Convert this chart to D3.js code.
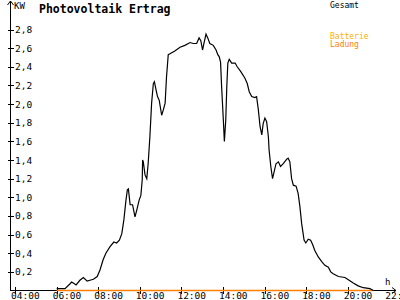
<!DOCTYPE html>
<html>
<head>
<meta charset="utf-8">
<script src="https://cdn.jsdelivr.net/npm/d3@7"></script>
<style>
  body { margin: 0; background: #fff; }
  svg { display: block; }
  text { font-family: "DejaVu Sans Mono", monospace; }
</style>
</head>
<body>
<div id="chart"></div>
<script>
// Gesamt (kW) over the day
var times = ["06:00","06:24","06:38","06:43","06:48","06:56","07:07","07:17","07:28","07:36",
  "07:46","07:57","08:05","08:14","08:22","08:34","08:45","08:53","09:01","09:08",
  "09:14","09:20","09:24","09:27","09:32","09:39","09:46","09:51","09:58","10:03",
  "10:07","10:08","10:10","10:15","10:20","10:24","10:29","10:34","10:39","10:42",
  "10:47","10:51","10:56","11:03","11:08","11:13","11:17","11:22","11:27","11:41",
  "11:56","12:10","12:25","12:34","12:44","12:51","12:56","13:01","13:05","13:11",
  "13:16","13:22","13:32","13:40","13:45","13:49","13:53","13:56","14:01","14:04",
  "14:08","14:11","14:14","14:18","14:25","14:35","14:41","14:51","15:03","15:10",
  "15:16","15:23","15:32","15:37","15:42","15:47","15:52","15:56","16:01","16:06",
  "16:11","16:13","16:18","16:23","16:33","16:40","16:46","16:54","17:04","17:08",
  "17:13","17:18","17:23","17:31","17:37","17:42","17:47","17:54","17:59","18:06",
  "18:13","18:19","18:25","18:35","18:45","18:54","19:04","19:11","19:18","19:33",
  "19:52","20:04","20:16","20:30","20:45","21:04","21:14"];
var gesamt = [0.02,0.02,0.07,0.09,0.08,0.06,0.11,0.14,0.10,0.11,
  0.12,0.15,0.22,0.33,0.40,0.47,0.52,0.51,0.54,0.61,
  0.76,0.97,1.08,1.09,0.92,0.92,0.79,0.86,0.97,1.02,
  1.19,1.40,1.38,1.24,1.20,1.36,1.65,2.01,2.22,2.24,
  2.15,2.08,2.04,1.88,1.94,2.01,2.29,2.53,2.54,2.57,
  2.61,2.63,2.66,2.65,2.65,2.71,2.68,2.58,2.65,2.75,
  2.71,2.65,2.63,2.58,2.53,2.51,2.45,2.19,1.83,1.60,
  1.83,2.19,2.44,2.48,2.44,2.44,2.40,2.35,2.28,2.22,
  2.13,2.08,2.07,2.08,1.94,1.76,1.67,1.79,1.85,1.81,
  1.65,1.51,1.33,1.20,1.36,1.38,1.33,1.36,1.41,1.42,
  1.38,1.20,1.13,1.12,1.04,0.90,0.72,0.54,0.51,0.55,
  0.54,0.49,0.43,0.36,0.31,0.27,0.25,0.20,0.18,0.15,
  0.14,0.11,0.08,0.05,0.03,0.02,0.00];
// Batterie-Ladung (kW), flat at zero
var ladungTimes = ["06:00","21:14"];
var ladung = [0, 0];

var xTicks = [4, 6, 8, 10, 12, 14, 16, 18, 20, 22];
var yTicks = [0.2, 0.4, 0.6, 0.8, 1.0, 1.2, 1.4, 1.6, 1.8, 2.0, 2.2, 2.4, 2.6, 2.8];

function toHour(s) {
    var p = s.split(":");
    return +p[0] + (+p[1]) / 60;
}

var svg = d3.select("#chart").append("svg")
            .attr("width", 400)
            .attr("height", 300);

var x0 = 10.5, yBase = 290.5;

var x = d3.scaleLinear()
          .domain([4, 22])
          .range([15.1, 389.3]);

var y = d3.scaleLinear()
          .domain([0, 2.8])
          .range([yBase, 29.5]);

// y axis
svg.append("line")
   .attr("x1", x0).attr("x2", x0)
   .attr("y1", 1).attr("y2", yBase)
   .attr("stroke", "black").attr("shape-rendering", "crispEdges");
svg.append("path")
   .attr("d", "M7.5,5 L10.5,1 L13.5,5")
   .attr("fill", "none").attr("stroke", "black");

svg.selectAll(".ytick")
   .data(yTicks)
   .enter().append("line")
   .attr("x1", 7.5).attr("x2", 13.5)
   .attr("y1", d => Math.round(y(d)) + 0.5)
   .attr("y2", d => Math.round(y(d)) + 0.5)
   .attr("stroke", "black").attr("shape-rendering", "crispEdges");

svg.selectAll(".ylabel")
   .data(yTicks)
   .enter().append("text")
   .attr("x", 15)
   .attr("y", d => y(d) + 3.5)
   .attr("font-size", "9.5px")
   .attr("fill", "black")
   .text(d => d3.format(".1f")(d).replace(".", ","));

svg.append("text")
   .attr("x", 14).attr("y", 9)
   .attr("font-size", "9px")
   .text("KW");

// x axis
svg.append("line")
   .attr("x1", x0).attr("x2", 396)
   .attr("y1", yBase).attr("y2", yBase)
   .attr("stroke", "black").attr("shape-rendering", "crispEdges");
svg.append("path")
   .attr("d", "M392,287.5 L396,290.5 L392,293.5")
   .attr("fill", "none").attr("stroke", "black");

svg.selectAll(".xtick")
   .data(xTicks.slice(0, -1))
   .enter().append("line")
   .attr("x1", d => Math.max(Math.round(x(d)) + 0.5, x0))
   .attr("x2", d => Math.max(Math.round(x(d)) + 0.5, x0))
   .attr("y1", 287).attr("y2", 294)
   .attr("stroke", "black").attr("shape-rendering", "crispEdges");

svg.selectAll(".xlabel")
   .data(xTicks)
   .enter().append("text")
   .attr("x", d => x(d) - 4)
   .attr("y", 299)
   .attr("font-size", "9.5px")
   .attr("fill", "black")
   .text(d => d3.format("02")(d) + ":00");

svg.append("text")
   .attr("x", 385).attr("y", 285)
   .attr("font-size", "9px")
   .text("h");

// series
var line = d3.line()
             .x(d => x(toHour(d[0])))
             .y(d => y(d[1]));

svg.append("path")
   .datum(d3.zip(ladungTimes, ladung))
   .attr("fill", "none")
   .attr("stroke", "#ff8000")
   .attr("stroke-width", 1.6)
   .attr("d", line);

svg.append("path")
   .datum(d3.zip(times, gesamt))
   .attr("fill", "none")
   .attr("stroke", "black")
   .attr("stroke-width", 1.2)
   .attr("d", line);

// titles and legend
svg.append("text")
   .attr("x", 39).attr("y", 13)
   .attr("font-size", "11.5px")
   .attr("font-weight", "bold")
   .text("Photovoltaik Ertrag");

svg.append("text")
   .attr("x", 330).attr("y", 8)
   .attr("font-size", "8px")
   .attr("fill", "black")
   .text("Gesamt");

svg.append("text")
   .attr("x", 330).attr("y", 39)
   .attr("font-size", "8px")
   .attr("fill", "#ffb000")
   .text("Batterie");

svg.append("text")
   .attr("x", 330).attr("y", 47)
   .attr("font-size", "8px")
   .attr("fill", "#ff8000")
   .text("Ladung");
</script>
</body>
</html>
